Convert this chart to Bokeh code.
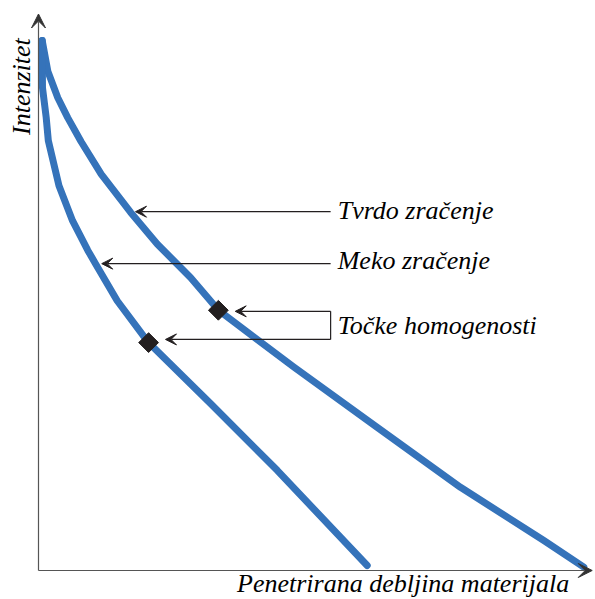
import math
from bokeh.plotting import figure
from bokeh.models import Range1d, Arrow, VeeHead, Label
from bokeh.embed import file_html
from bokeh.resources import INLINE

# --- data (thickness x, intensity y; arbitrary units) ---
hard_x = [0.68, 1.71, 3.54, 5.38, 7.83, 11.50, 16.88, 21.78, 27.89, 33.03, 46.84, 62.15, 77.43, 92.72, 100.06]
hard_y = [100.0, 94.2, 89.2, 85.4, 80.9, 74.8, 67.6, 61.6, 55.3, 49.1, 38.4, 27.0, 15.7, 5.66, 0.62]
soft_x = [0.68, 0.73, 1.41, 1.80, 3.76, 6.24, 9.05, 10.46, 14.44, 20.18, 31.56, 43.80, 60.31]
soft_y = [100.0, 91.1, 85.5, 81.1, 72.6, 66.0, 60.4, 57.9, 50.9, 43.0, 31.5, 18.9, 0.94]
homog_x = [33.0, 20.2]
homog_y = [49.1, 43.0]

labels = ["Tvrdo zračenje", "Meko zračenje", "Točke homogenosti"]
label_y = [67.9, 58.5, 46.2]
x_title = "Penetrirana debljina materijala"
y_title = "Intenzitet"

BLUE = "#3573BA"
DARK = "#231F20"
FONT = "Liberation Serif"

p = figure(width=595, height=599, output_backend="svg", toolbar_location=None,
           x_range=Range1d(-6.972, 102.2), y_range=Range1d(-5.472, 107.55),
           min_border=0, min_border_left=0, min_border_right=0,
           min_border_top=0, min_border_bottom=0)
p.axis.visible = False
p.grid.visible = False
p.outline_line_color = None
p.background_fill_color = "white"
p.border_fill_color = "white"

# axes with arrows
p.add_layout(Arrow(end=VeeHead(size=14, fill_color="#333333", line_color="#333333", line_width=1),
                   x_start=0, y_start=0, x_end=0, y_end=105.0,
                   line_color="#555555", line_width=1.2))
p.add_layout(Arrow(end=VeeHead(size=14, fill_color="#333333", line_color="#333333", line_width=1),
                   x_start=0, y_start=0, x_end=101.6, y_end=0,
                   line_color="#555555", line_width=1.2))

# curves
p.line(hard_x, hard_y, line_color=BLUE, line_width=7, line_join="round", line_cap="round")
p.line(soft_x, soft_y, line_color=BLUE, line_width=7, line_join="round", line_cap="round")

# homogeneity points
p.scatter(homog_x, homog_y, marker="square", size=14, angle=math.pi / 4,
          fill_color=DARK, line_color=DARK)

# annotation arrows
def ann_arrow(xs, xe, y):
    p.add_layout(Arrow(end=VeeHead(size=11, fill_color=DARK, line_color=DARK, line_width=1),
                       x_start=xs, y_start=y, x_end=xe, y_end=y,
                       line_color=DARK, line_width=1.2))

ann_arrow(53.6, 17.8, 67.7)
ann_arrow(53.6, 11.6, 57.9)
ann_arrow(53.6, 36.1, 48.9)
ann_arrow(53.6, 23.3, 43.6)
p.line([53.6, 53.6], [48.9, 43.6], line_color=DARK, line_width=1.2)

# texts
for t, yy in zip(labels, label_y):
    p.add_layout(Label(x=54.9, y=yy, text=t, text_font=FONT, text_font_style="italic",
                       text_font_size="26px", text_baseline="middle", text_align="left",
                       text_color="black"))

p.add_layout(Label(x=66.9, y=-5.2, text=x_title, text_font=FONT, text_font_style="italic",
                   text_font_size="26px", text_baseline="bottom", text_align="center",
                   text_color="black"))
p.add_layout(Label(x=-3.12, y=91.3, text=y_title, text_font=FONT, text_font_style="italic",
                   text_font_size="26px", text_baseline="middle", text_align="center",
                   angle=math.pi / 2, text_color="black"))

open("out.html", "w").write(file_html(p, INLINE))
